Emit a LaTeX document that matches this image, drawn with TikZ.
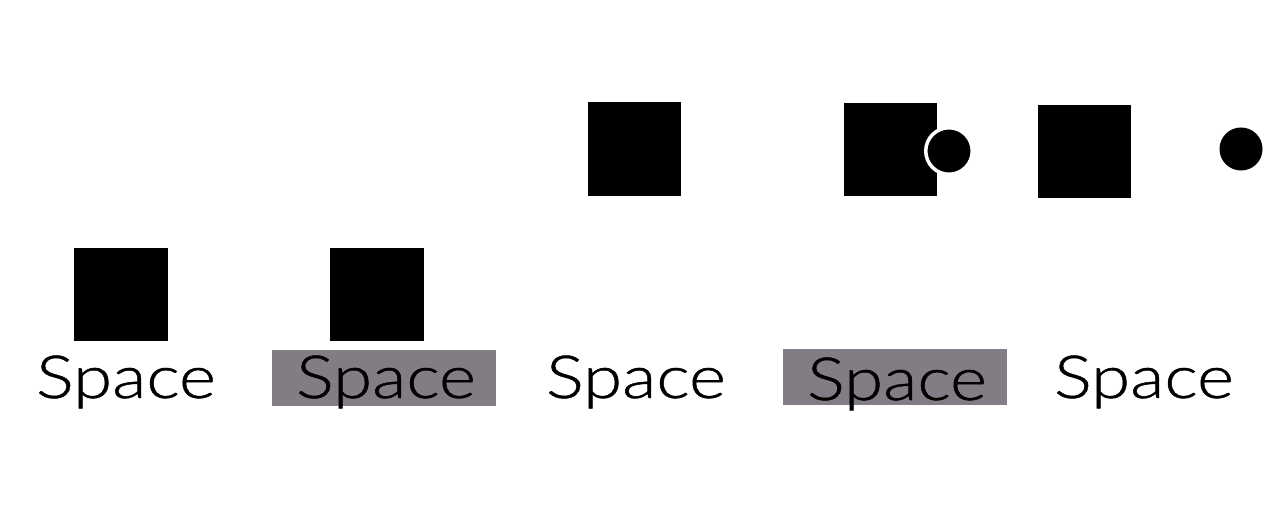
\documentclass[tikz,border=0pt]{standalone}
\usepackage{fontspec}
\setmainfont{Lato Light}[FakeStretch=1.19, FakeBold=0.8]
\usepackage{xcolor}
\usetikzlibrary{positioning}
\definecolor{chipgray}{RGB}{130,125,132}
\tikzset{
  block/.style={fill=black, minimum size=0.93cm, inner sep=0pt},
  dot/.style={circle, fill=black, minimum size=0.43cm, inner sep=0pt},
  ringdot/.style={circle, fill=black, draw=white, line width=0.035cm, minimum size=0.465cm, inner sep=0pt},
  chip/.style={fill=chipgray, minimum width=2.24cm, minimum height=0.56cm, inner sep=0pt},
  spacetext/.style={anchor=base, inner sep=0pt, font=\fontsize{16.9}{20}\selectfont}
}

\begin{document}
\begin{tikzpicture}[x=0.01cm, y=-0.01cm]
        \useasboundingbox (0,0) rectangle (1280,512);

        % Grey chips behind the labels
        \node[chip] (chip2) at (384,378) {};
        \node[chip] (chip4) at (895,377) {};

        % Blocks
        \node[block] (blk1) at (121,294.5) {};
        \node[block] (blk2) at (377,294.5) {};
        \node[block] (blk3) at (634.5,149) {};
        \node[block] (blk4) at (890.5,149.5) {};
        \node[block] (blk5) at (1084.5,151.5) {};

        % Dots
        \node[ringdot] (dot4) at (949,151) {};
        \node[dot]     (dot5) at (1241,149) {};

        % Labels
        \node[spacetext] (txt1) at (126,398) {Space};
        \node[spacetext] (txt2) at (386,398) {Space};
        \node[spacetext] (txt3) at (636,398) {Space};
        \node[spacetext] (txt4) at (897,400) {Space};
        \node[spacetext] (txt5) at (1144,398) {Space};
    \end{tikzpicture}
\end{document}
